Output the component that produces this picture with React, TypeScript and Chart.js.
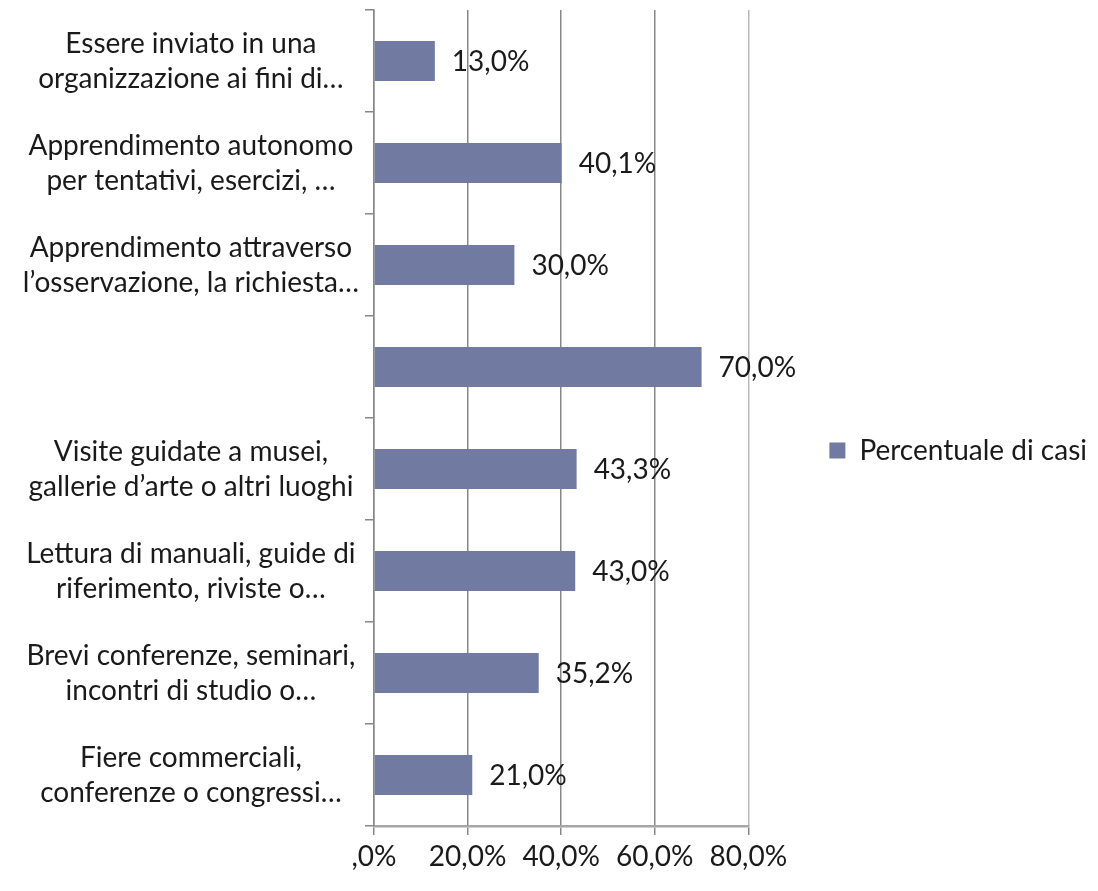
import React, { useEffect, useRef } from "react";
import { Chart, registerables } from "chart.js";

Chart.register(...registerables);

const categories: (string | string[])[] = [
  ["Essere inviato in una", "organizzazione ai fini di…"],
  ["Apprendimento autonomo", "per tentativi, esercizi, …"],
  ["Apprendimento attraverso", "l’osservazione, la richiesta…"],
  "",
  ["Visite guidate a musei,", "gallerie d’arte o altri luoghi"],
  ["Lettura di manuali, guide di", "riferimento, riviste o…"],
  ["Brevi conferenze, seminari,", "incontri di studio o…"],
  ["Fiere commerciali,", "conferenze o congressi…"],
];
const seriesName = "Percentuale di casi";
const values = [13.0, 40.1, 30.0, 70.0, 43.3, 43.0, 35.2, 21.0];
const xTicks = [0, 20, 40, 60, 80];

const FONT = "Lato";
const FS = 28;
const TEXT = "#1a1a1a";
const GRID = "#878787";
const BAR = "#717ba1";

const fmt = (v: number) => (v === 0 ? ",0%" : v.toFixed(1).replace(".", ",") + "%");

const dataLabels = {
  id: "dataLabels",
  afterDatasetsDraw(chart: any) {
    const ctx = chart.ctx;
    const meta = chart.getDatasetMeta(0);
    ctx.save();
    ctx.font = `${FS}px ${FONT}`;
    ctx.fillStyle = TEXT;
    ctx.textAlign = "left";
    ctx.textBaseline = "middle";
    meta.data.forEach((el: any, i: number) => {
      ctx.fillText(fmt(values[i]), el.x + 17, el.y + 1);
    });
    ctx.restore();
  },
};

export default function App() {
  const ref = useRef<HTMLCanvasElement>(null);
  useEffect(() => {
    if (!ref.current) return;
    const chart = new Chart(ref.current, {
      type: "bar",
      data: {
        labels: categories,
        datasets: [
          {
            label: seriesName,
            data: values,
            backgroundColor: BAR,
            borderWidth: 0,
            categoryPercentage: 1,
            barPercentage: 0.39,
          },
        ],
      },
      plugins: [dataLabels],
      options: {
        indexAxis: "y",
        responsive: false,
        animation: false,
        layout: { padding: { top: 10, right: 1, left: 0, bottom: 0 } },
        plugins: {
          tooltip: { enabled: false },
          legend: {
            position: "right",
            align: "center",
            maxWidth: 500,
            labels: {
              boxWidth: 16,
              boxHeight: 16,
              padding: 81,
              color: TEXT,
              font: { family: FONT, size: FS },
            },
          },
        },
        scales: {
          x: {
            min: 0,
            max: 80,
            afterBuildTicks: (axis: any) => {
              axis.ticks = xTicks.map((v) => ({ value: v }));
            },
            afterFit: (axis: any) => {
              axis.height = 65;
            },
            grid: {
              color: (c: any) => (c.index === 4 ? "#b8b8b8" : GRID),
              lineWidth: 1.5,
              drawTicks: true,
              tickLength: 9,
              tickColor: GRID,
            },
            border: { display: true, color: "#a6a6a6", width: 2.5 },
            ticks: {
              color: TEXT,
              font: { family: FONT, size: FS },
              padding: 5,
              callback: (v: any) => fmt(Number(v)),
            },
          },
          y: {
            afterFit: (axis: any) => {
              axis.width = 374;
              axis.paddingTop = 0;
              axis.paddingBottom = 0;
            },
            grid: {
              drawOnChartArea: false,
              drawTicks: true,
              tickLength: 9,
              color: GRID,
              lineWidth: 1.5,
            },
            border: { display: true, color: GRID, width: 1.5 },
            ticks: {
              color: TEXT,
              crossAlign: "center",
              padding: 6,
              font: { family: FONT, size: FS, lineHeight: 1.25 },
            },
          },
        },
      },
    });
    return () => chart.destroy();
  }, []);
  return (
    <div style={{ position: "absolute", left: 0, top: 0, width: 1098, height: 891, background: "#fff" }}>
      <canvas ref={ref} width={1098} height={891} style={{ display: "block" }} />
    </div>
  );
}
